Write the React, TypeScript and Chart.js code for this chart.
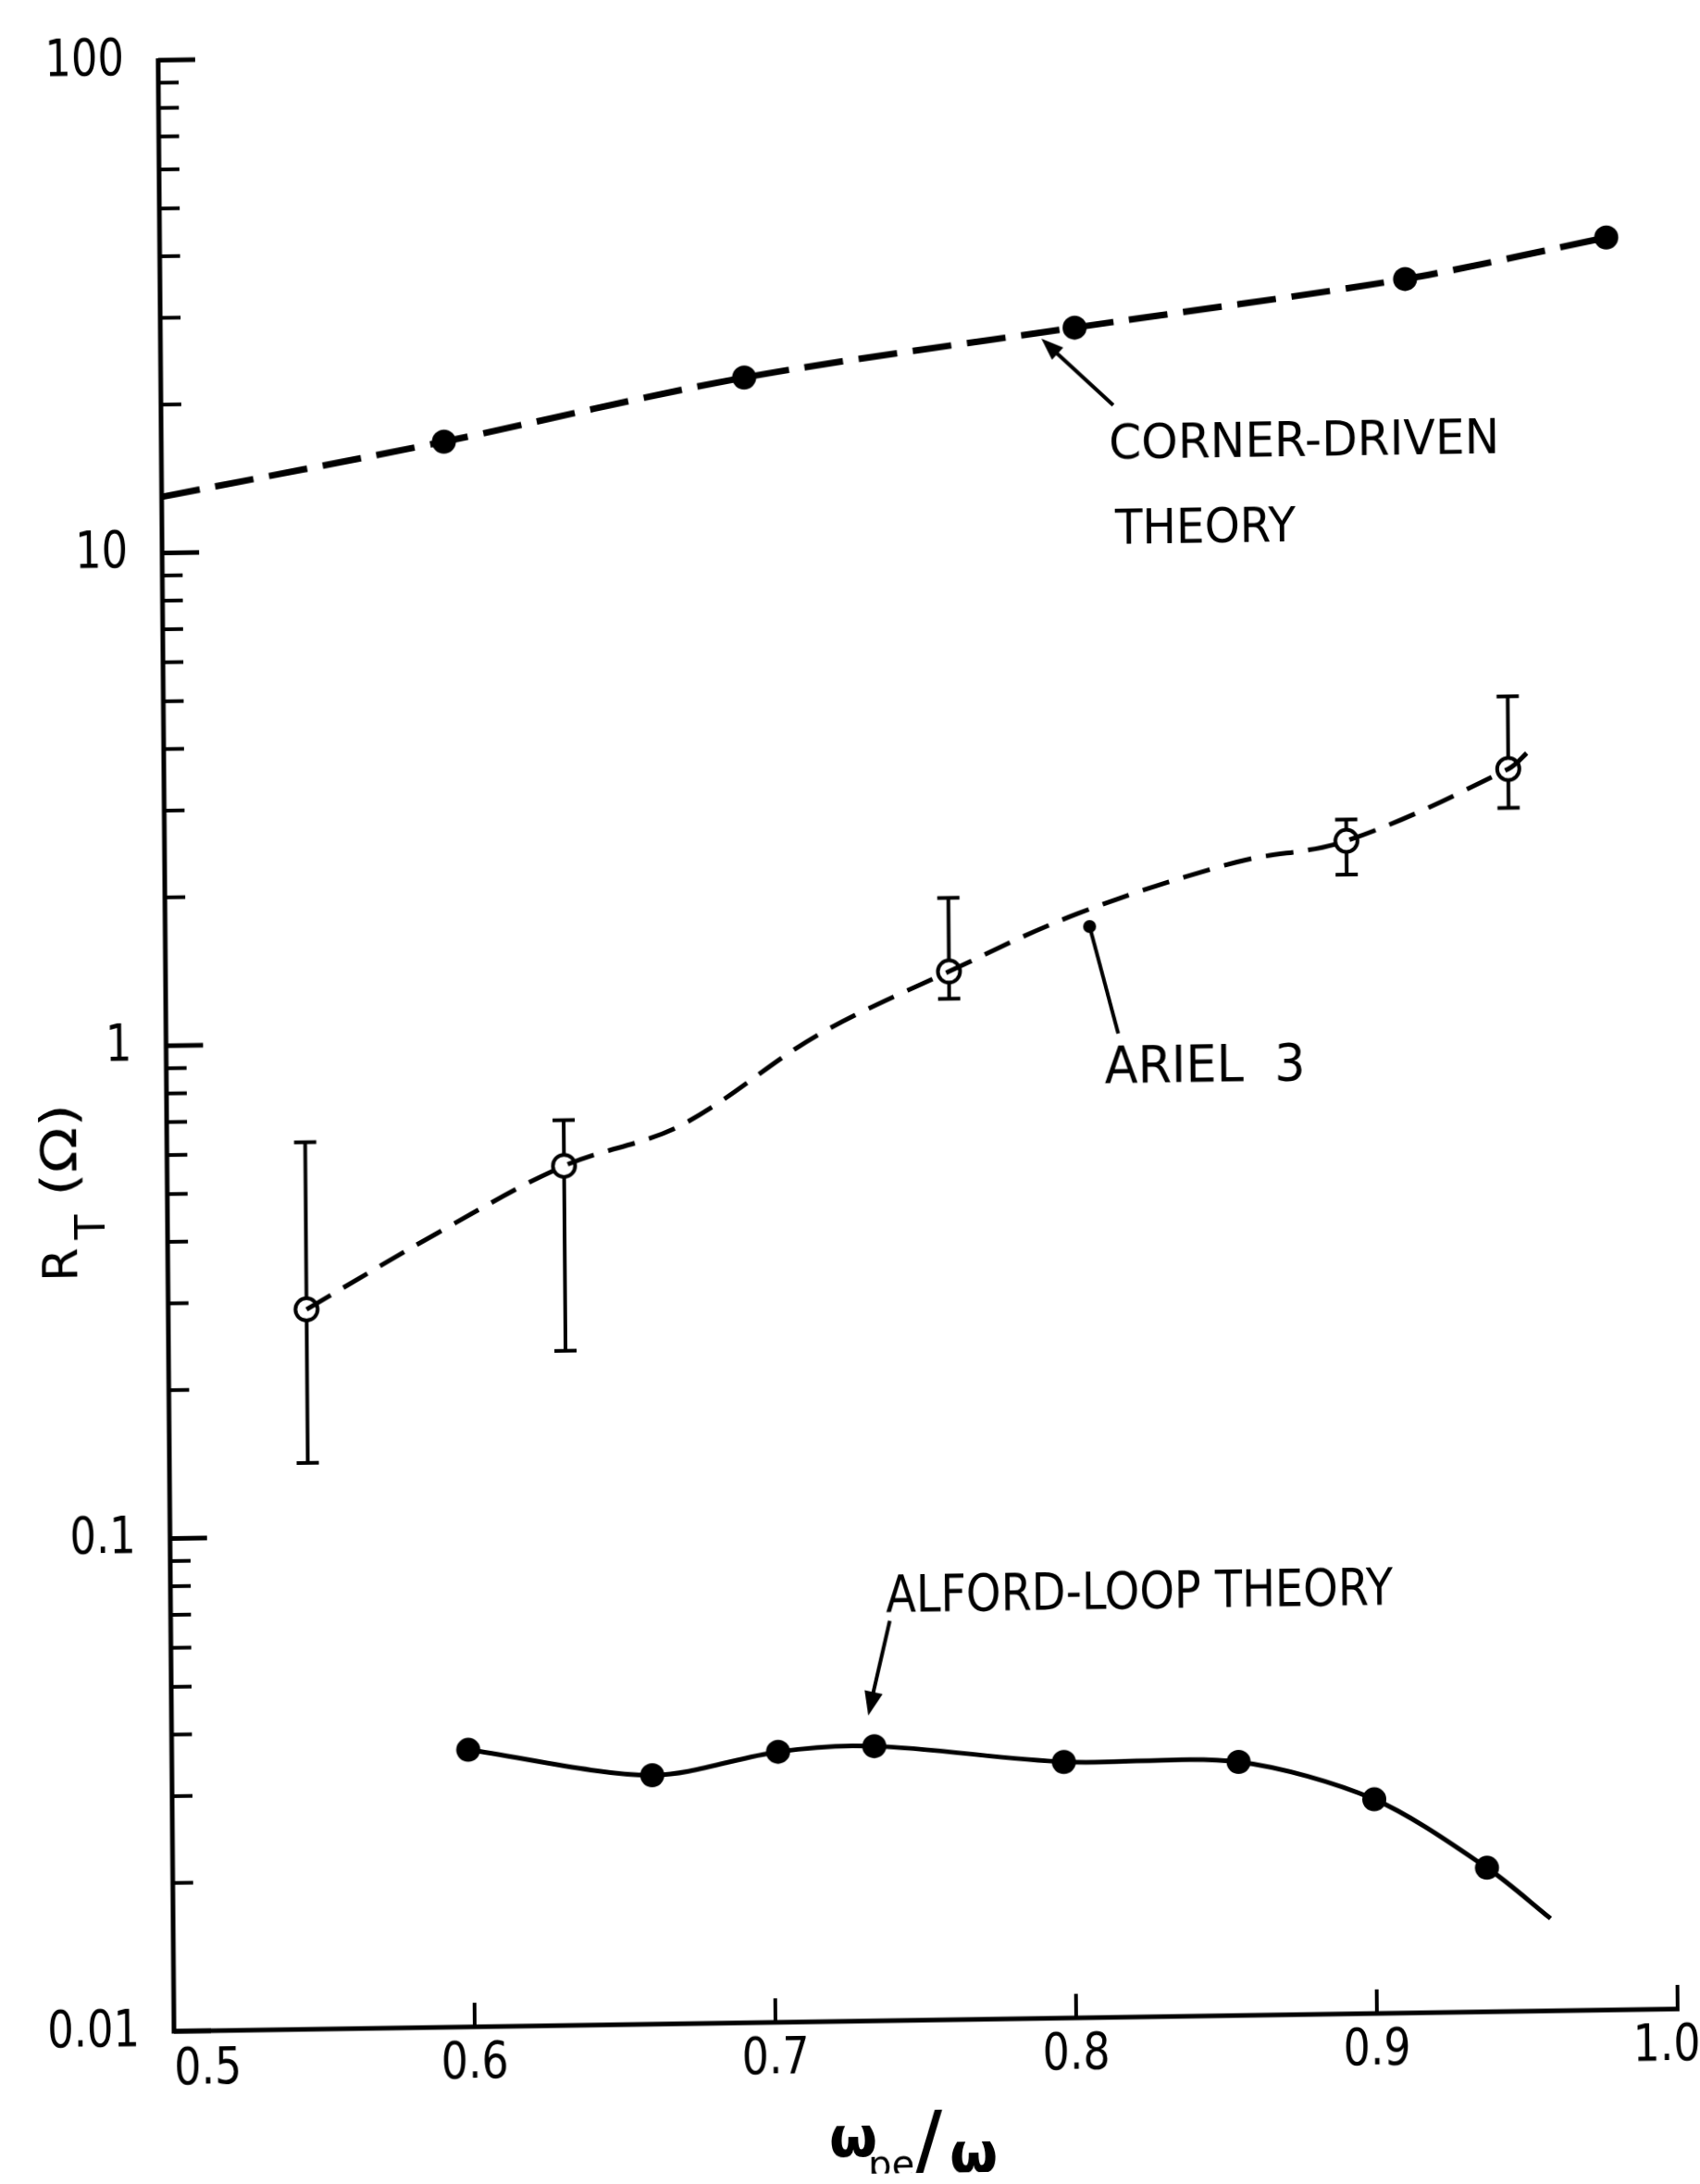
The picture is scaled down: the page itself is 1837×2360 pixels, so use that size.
import React, { useEffect, useRef } from 'react';
import { Chart, registerables } from 'chart.js';

Chart.register(...registerables);

// ---------- axis ticks ----------
const xTickValues = [0.5, 0.6, 0.7, 0.8, 0.9, 1.0];
const xTickLabels = ['0.5', '0.6', '0.7', '0.8', '0.9', '1.0'];
const yTickValues = [0.01, 0.1, 1, 10, 100];
const yTickLabels = ['0.01', '0.1', '1', '10', '100'];

// ---------- corner-driven theory (dashed, filled dots) ----------
const cornerX = [0.5, 0.594, 0.694, 0.804, 0.914, 0.981];
const cornerY = [13.0, 16.5, 21.8, 26.9, 33.0, 39.5];
const cornerMarked = [false, true, true, true, true, true];

// ---------- ARIEL 3 measurements (open circles with error bars) ----------
const arielX = [0.546, 0.632, 0.7605, 0.893, 0.947];
const arielY = [0.289, 0.555, 1.34, 2.4, 3.32];
const arielLow = [0.141, 0.234, 1.18, 2.05, 2.77];
const arielHigh = [0.631, 0.687, 1.89, 2.65, 4.66];
// dashed curve drawn through the ARIEL 3 points
const arielCurveX = [0.546, 0.59, 0.632, 0.6707, 0.7166, 0.7605, 0.8034, 0.8564, 0.893, 0.947, 0.954];
const arielCurveY = [0.289, 0.41, 0.555, 0.664, 1.004, 1.34, 1.74, 2.19, 2.4, 3.32, 3.61];

// ---------- Alford-loop theory (solid, filled dots) ----------
const alfordX = [0.5986, 0.6597, 0.7016, 0.7336, 0.7966, 0.8547, 0.8997, 0.937, 0.958];
const alfordY = [0.0365, 0.032, 0.0354, 0.0361, 0.0331, 0.0327, 0.0272, 0.0196, 0.0154];
const alfordMarked = [true, true, true, true, true, true, true, true, false];

const FONT = '"DejaVu Sans", "Liberation Sans", sans-serif';

function drawText(ctx: CanvasRenderingContext2D, text: string, x: number, y: number, size: number,
  align: CanvasTextAlign = 'left', width = 0, sx = 1, baseline: CanvasTextBaseline = 'middle') {
  ctx.save();
  ctx.font = `${size}px ${FONT}`;
  ctx.fillStyle = '#000';
  ctx.textBaseline = baseline;
  const w = ctx.measureText(text).width;
  const k = width > 0 ? width / w : sx;
  ctx.translate(x, y);
  ctx.scale(k, 1);
  ctx.textAlign = align;
  ctx.fillText(text, 0, 0);
  ctx.restore();
}

function arrowHead(ctx: CanvasRenderingContext2D, fromX: number, fromY: number, tipX: number, tipY: number, len: number, half: number) {
  const dx = tipX - fromX, dy = tipY - fromY;
  const d = Math.hypot(dx, dy);
  const ux = dx / d, uy = dy / d;
  const bx = tipX - ux * len, by = tipY - uy * len;
  ctx.beginPath();
  ctx.moveTo(tipX, tipY);
  ctx.lineTo(bx - uy * half, by + ux * half);
  ctx.lineTo(bx + uy * half, by - ux * half);
  ctx.closePath();
  ctx.fill();
}

const paperPlugin = {
  id: 'paper',
  beforeDraw(chart: any) {
    const { ctx, width, height } = chart;
    ctx.save();
    ctx.fillStyle = '#fff';
    ctx.fillRect(0, 0, width, height);
    ctx.restore();
  },
  beforeDatasetsDraw(chart: any) {
    const { ctx, scales } = chart;
    const xs = scales.x, ys = scales.y;
    ctx.save();
    ctx.strokeStyle = '#000';
    ctx.lineWidth = 4;
    arielX.forEach((xv, i) => {
      const px = xs.getPixelForValue(xv);
      const top = ys.getPixelForValue(arielHigh[i]);
      const bot = ys.getPixelForValue(arielLow[i]);
      ctx.beginPath();
      ctx.moveTo(px, top); ctx.lineTo(px, bot);
      ctx.moveTo(px - 12, top); ctx.lineTo(px + 12, top);
      ctx.moveTo(px - 12, bot); ctx.lineTo(px + 12, bot);
      ctx.stroke();
    });
    ctx.restore();
  },
  afterDraw(chart: any) {
    const { ctx, scales } = chart;
    const xs = scales.x, ys = scales.y;
    const x0 = xs.getPixelForValue(0.5);
    const x1 = xs.getPixelForValue(1.0);
    const yb = ys.getPixelForValue(0.01);
    const yt = ys.getPixelForValue(100);
    ctx.save();
    ctx.strokeStyle = '#000';
    ctx.fillStyle = '#000';
    ctx.lineCap = 'butt';
    // axes
    ctx.lineWidth = 5;
    ctx.beginPath();
    ctx.moveTo(x0, yt - 2);
    ctx.lineTo(x0, yb);
    ctx.lineTo(x1 + 2, yb);
    ctx.stroke();
    // y ticks (inward)
    yTickValues.forEach((d) => {
      const p = ys.getPixelForValue(d);
      ctx.lineWidth = 5;
      ctx.beginPath(); ctx.moveTo(x0, p); ctx.lineTo(x0 + 40, p); ctx.stroke();
      if (d < 100) {
        for (let m = 2; m <= 9; m++) {
          const q = ys.getPixelForValue(d * m);
          ctx.lineWidth = 4;
          ctx.beginPath(); ctx.moveTo(x0, q); ctx.lineTo(x0 + 22, q); ctx.stroke();
        }
      }
    });
    // x ticks (inward)
    ctx.lineWidth = 4;
    xTickValues.slice(1).forEach((v) => {
      const p = xs.getPixelForValue(v);
      ctx.beginPath(); ctx.moveTo(p, yb); ctx.lineTo(p, yb - 26); ctx.stroke();
    });
    // y tick labels
    yTickValues.forEach((d, i) => {
      drawText(ctx, yTickLabels[i], 151, ys.getPixelForValue(d), 56, 'right', 0, 0.8);
    });
    // x tick labels
    const last = xTickValues.length - 1;
    xTickValues.forEach((v, i) => {
      const p = xs.getPixelForValue(v);
      if (i === 0) drawText(ctx, xTickLabels[i], p, yb + 42, 56, 'left', 0, 0.82);
      else if (i === last) drawText(ctx, xTickLabels[i], p - 12, yb + 40, 56, 'center', 0, 0.82);
      else drawText(ctx, xTickLabels[i], p, yb + 40, 56, 'center', 0, 0.82);
    });

    // y axis title: R_T (Ω)  (reads bottom to top)
    ctx.save();
    ctx.translate(90, 1383);
    ctx.rotate(-Math.PI / 2);
    ctx.textBaseline = 'alphabetic';
    ctx.textAlign = 'left';
    ctx.fillStyle = '#000';
    ctx.font = `52px ${FONT}`;
    ctx.fillText('R', 0, 0);
    ctx.font = `44px ${FONT}`;
    ctx.fillText('T', 45, 30);
    ctx.restore();
    ctx.save();
    ctx.translate(90, 1383);
    ctx.rotate(-Math.PI / 2);
    drawText(ctx, '(Ω)', 92, 0, 54, 'left', 100, 1, 'alphabetic');
    ctx.restore();

    // x axis title: ω_pe / ω
    ctx.save();
    ctx.textBaseline = 'alphabetic';
    ctx.textAlign = 'left';
    ctx.fillStyle = '#000';
    ctx.font = `bold 60px ${FONT}`;
    ctx.fillText('ω', 895, 2341);
    ctx.font = `40px ${FONT}`;
    ctx.fillText('pe', 937, 2364);
    ctx.font = `96px ${FONT}`;
    ctx.fillText('/', 985, 2362);
    ctx.font = `bold 60px ${FONT}`;
    ctx.fillText('ω', 1025, 2360);
    ctx.restore();

    // annotations
    drawText(ctx, 'CORNER-DRIVEN', 1212, 497, 52, 'left', 422);
    drawText(ctx, 'THEORY', 1218, 589, 52, 'left', 195);
    drawText(ctx, 'ARIEL  3', 1202, 1170, 56, 'left', 217);
    drawText(ctx, 'ALFORD-LOOP THEORY', 961, 1738, 56, 'left', 548);

    ctx.lineWidth = 4;
    // corner pointer
    ctx.beginPath(); ctx.moveTo(1217, 453); ctx.lineTo(1147, 387); ctx.stroke();
    arrowHead(ctx, 1217, 453, 1140, 380, 24, 9);
    // ARIEL pointer
    ctx.beginPath(); ctx.moveTo(1187, 1016); ctx.lineTo(1217, 1132); ctx.stroke();
    ctx.beginPath(); ctx.arc(1187, 1016, 7, 0, Math.PI * 2); ctx.fill();
    // Alford pointer
    ctx.beginPath(); ctx.moveTo(965, 1763); ctx.lineTo(944, 1851); ctx.stroke();
    arrowHead(ctx, 965, 1763, 941, 1865, 26, 10);
    ctx.restore();
  },
};

export default function App() {
  const ref = useRef<HTMLCanvasElement>(null);
  useEffect(() => {
    const canvas = ref.current;
    if (!canvas) return;
    const zip = (xs: number[], ys: number[]) => xs.map((x, i) => ({ x, y: ys[i] }));
    const chart = new Chart(canvas, {
      type: 'line',
      data: {
        datasets: [
          {
            label: 'Corner-driven theory',
            data: zip(cornerX, cornerY),
            borderColor: '#000',
            borderWidth: 7,
            borderDash: [42, 17],
            tension: 0.3,
            pointRadius: cornerMarked.map((m) => (m ? 13 : 0)),
            pointBackgroundColor: '#000',
            pointBorderColor: '#000',
            pointBorderWidth: 0,
            fill: false,
            clip: false,
          },
          {
            label: 'ARIEL 3 curve',
            data: zip(arielCurveX, arielCurveY),
            borderColor: '#000',
            borderWidth: 5,
            borderDash: [30, 16],
            tension: 0.35,
            pointRadius: 0,
            fill: false,
            clip: false,
          },
          {
            label: 'ARIEL 3',
            data: zip(arielX, arielY),
            showLine: false,
            pointRadius: 12,
            pointBackgroundColor: '#fff',
            pointBorderColor: '#000',
            pointBorderWidth: 4,
            clip: false,
          },
          {
            label: 'Alford-loop theory',
            data: zip(alfordX, alfordY),
            borderColor: '#000',
            borderWidth: 5,
            tension: 0.3,
            pointRadius: alfordMarked.map((m) => (m ? 13 : 0)),
            pointBackgroundColor: '#000',
            pointBorderColor: '#000',
            pointBorderWidth: 0,
            fill: false,
            clip: false,
          },
        ],
      },
      options: {
        responsive: false,
        animation: false,
        events: [],
        layout: { padding: { left: 188, right: 24, top: 65, bottom: 165 } },
        scales: {
          x: { type: 'linear', min: 0.5, max: 1.0, display: false },
          y: { type: 'logarithmic', min: 0.01, max: 100, display: false },
        },
        plugins: { legend: { display: false }, tooltip: { enabled: false } },
      },
      plugins: [paperPlugin],
    } as any);
    return () => chart.destroy();
  }, []);
  return (
    <div style={{ position: 'absolute', left: 0, top: 0, width: 1837, height: 2360, background: '#fff', overflow: 'hidden' }}>
      <canvas
        ref={ref}
        width={1837}
        height={2360}
        style={{
          display: 'block',
          width: 1837,
          height: 2360,
          transform: 'matrix(0.99989, -0.01484, 0.00803, 0.99997, 0, 0)',
          transformOrigin: '188px 2195px',
        }}
      />
    </div>
  );
}
